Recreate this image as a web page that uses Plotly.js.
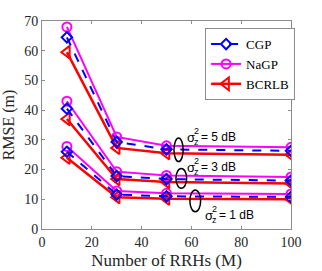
<!DOCTYPE html>
<html><head><meta charset="utf-8">
<script src="https://cdn.plot.ly/plotly-3.0.1.min.js"></script>
<style>html,body{margin:0;padding:0;background:#fff}#c{width:322px;height:271px}</style>
</head><body><div id="c"></div>
<script>
const numRRH = [10, 30, 50, 100];
// sigma_z^2 = 5 dB
const cgp5 = [64.5, 29.3, 26.8, 26.3];
const nagp5 = [68, 31, 28, 27.5];
const bcrlb5 = [59.5, 27.3, 25.5, 25];
// sigma_z^2 = 3 dB
const cgp3 = [40.5, 17.8, 16.8, 16.3];
const nagp3 = [43, 19.3, 18, 17.5];
const bcrlb3 = [37, 16.8, 15.8, 15.3];
// sigma_z^2 = 1 dB
const cgp1 = [26, 11.6, 11, 10.8];
const nagp1 = [27.8, 12.8, 12, 11.8];
const bcrlb1 = [24, 10.7, 10.2, 10];
const seriesNames = ['CGP', 'NaGP', 'BCRLB'];
const noiseLabels = ['5', '3', '1'];

const SERIF = '"Liberation Serif", "Times New Roman", Times, serif';
const SANS = '"Liberation Sans", Arial, Helvetica, sans-serif';

const styles = {
  CGP:   {color: '#0000ff', dash: 'dash',  symbol: 'diamond-open', size: 8, width: 2},
  NaGP:  {color: '#ff00ff', dash: 'solid', symbol: 'circle-open', size: 9, width: 2},
  BCRLB: {color: '#ff0000', dash: 'solid', symbol: 'triangle-left-open', size: 11, width: 2.5}
};
const groups = [
  {CGP: cgp5, NaGP: nagp5, BCRLB: bcrlb5},
  {CGP: cgp3, NaGP: nagp3, BCRLB: bcrlb3},
  {CGP: cgp1, NaGP: nagp1, BCRLB: bcrlb1}
];
const traces = [];
const order = ['NaGP', 'BCRLB', 'CGP'];
const legendRank = {CGP: 1, NaGP: 2, BCRLB: 3};
order.forEach(name => {
  groups.forEach((g, gi) => {
    const s = styles[name];
    traces.push({
      x: numRRH, y: g[name], name: name, type: 'scatter', mode: 'lines+markers',
      legendgroup: name, showlegend: gi === 0, legendrank: legendRank[name],
      line: {color: s.color, dash: s.dash, width: s.width},
      marker: {symbol: s.symbol, size: s.size, color: s.color, line: {color: s.color, width: 2}}
    });
  });
});

const ellipses = [
  [53.0, 56.7, 22.7, 30.6],
  [53.8, 58.1, 13.7, 20.4],
  [59.4, 63.7, 5.8, 13.1]
];
const shapes = ellipses.map(e => ({type: 'circle', xref: 'x', yref: 'y', x0: e[0], x1: e[1], y0: e[2], y1: e[3], line: {color: '#000', width: 1.5}}));

const labelPos = [[57.3, 30.8], [57.6, 20.8], [64.8, 4.6]];
const annotations = [];
labelPos.forEach((p, i) => {
  annotations.push({x: p[0], y: p[1], xref: 'x', yref: 'y', text: 'σ', showarrow: false, xanchor: 'left', yanchor: 'middle', font: {family: SANS, size: 13, color: '#000'}});
  annotations.push({x: p[0], y: p[1], xref: 'x', yref: 'y', text: '2', showarrow: false, xanchor: 'left', yanchor: 'middle', xshift: 7, yshift: 6, font: {family: SANS, size: 9, color: '#000'}});
  annotations.push({x: p[0], y: p[1], xref: 'x', yref: 'y', text: 'z', showarrow: false, xanchor: 'left', yanchor: 'middle', xshift: 7, yshift: -5, font: {family: SANS, size: 9, color: '#000'}});
  annotations.push({x: p[0], y: p[1], xref: 'x', yref: 'y', text: '= ' + noiseLabels[i] + ' dB', showarrow: false, xanchor: 'left', yanchor: 'middle', xshift: 14, font: {family: SANS, size: 12, color: '#000'}});
});

const axisCommon = {
  showgrid: false, zeroline: false, showline: true, mirror: 'ticks', linecolor: '#8c8c8c', linewidth: 1,
  ticks: 'inside', ticklen: 3, tickcolor: '#8c8c8c',
  tickfont: {family: SERIF, size: 14, color: '#262626'}
};
const layout = {
  width: 322, height: 271,
  margin: {l: 42, r: 31, t: 21, b: 42},
  paper_bgcolor: '#fff', plot_bgcolor: '#fff',
  showlegend: true,
  xaxis: Object.assign({}, axisCommon, {range: [0, 100], tickvals: [0, 20, 40, 60, 80, 100],
    title: {text: 'Number of RRHs (M)', font: {family: SERIF, size: 17, color: '#262626'}, standoff: 5}}),
  yaxis: Object.assign({}, axisCommon, {range: [0, 70], tickvals: [0, 10, 20, 30, 40, 50, 60, 70],
    title: {text: 'RMSE (m)', font: {family: SERIF, size: 16, color: '#262626'}, standoff: 5}}),
  legend: {x: 0.655, y: 0.966, xanchor: 'left', yanchor: 'top', bgcolor: '#fff', bordercolor: '#8c8c8c', borderwidth: 1,
    font: {family: SERIF, size: 13, color: '#000'}, itemwidth: 30, tracegroupgap: 0,
    traceorder: 'normal'},
  shapes: shapes,
  annotations: annotations
};
Plotly.newPlot('c', traces, layout, {displayModeBar: false, staticPlot: true});
</script></body></html>
